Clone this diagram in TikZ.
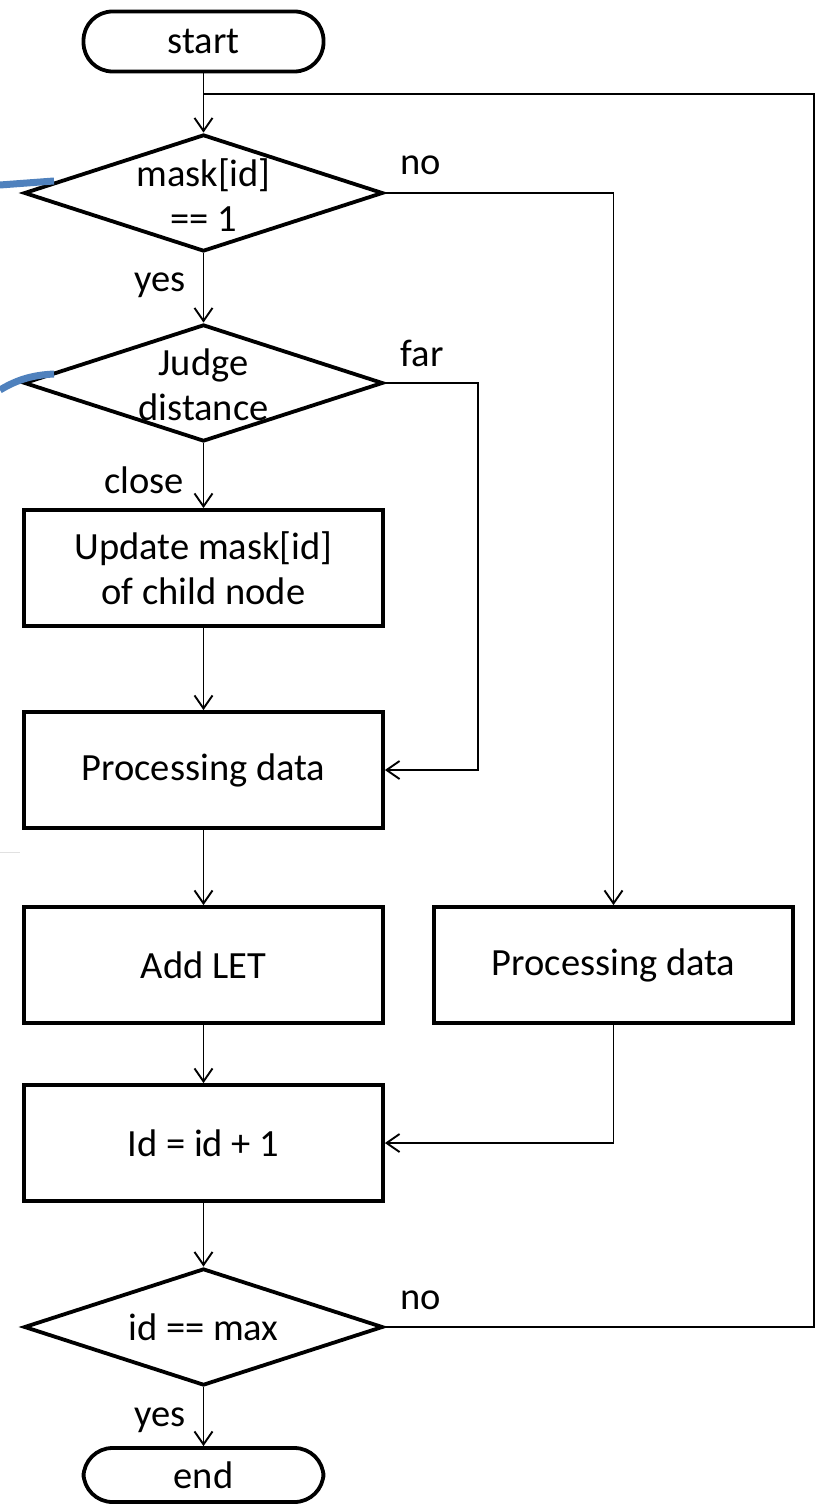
\documentclass[tikz,border=0pt]{standalone}
\usepackage{fontspec}
\setmainfont{Carlito}
\usetikzlibrary{shapes.geometric,arrows.meta}
\begin{document}
\begin{tikzpicture}[x=1pt,y=-1pt,
  txt/.style={font=\fontsize{38.5}{45}\selectfont},
  box/.style={draw,line width=3.8pt,minimum width=359pt,minimum height=116pt,align=center,inner sep=0pt,txt},
  term/.style={draw,line width=3.8pt,rounded corners=29pt,minimum width=240pt,inner sep=0pt,txt},
  dec/.style={draw,diamond,line width=3.8pt,minimum width=359pt,minimum height=117pt,inner sep=0pt},
  dectext/.style={align=center,txt,inner sep=0pt},
  lbl/.style={txt,inner sep=0pt},
  conn/.style={line width=1.9pt},
  arr/.style={conn,-{Straight Barb[length=13pt,width=18pt,line width=1.9pt]}},
  blue/.style={line width=7pt,color={rgb,255:red,79;green,129;blue,189}}
]
\useasboundingbox (0,0) rectangle (820,1506);

% terminals
\node[term,minimum height=60pt] (start) at (203.5,41.5) {start};
\node[term,minimum height=54pt] (end) at (203.5,1475) {end};

% decisions
\node[dec] (d1) at (203.5,193) {};
\node[dectext] (d1t) at (203.5,195) {mask[id]\\== 1};
\node[dec] (d2) at (203.5,383) {};
\node[dectext] (d2t) at (203.5,385) {Judge\\distance};
\node[dec] (d3) at (203.5,1327) {};
\node[dectext] (d3t) at (203.5,1327) {id == max};

% process boxes
\node[box] (upd) at (203.5,568) {Update mask[id]\\of child node};
\node[box] (proc1) at (203.5,770) {Processing data};
\node[box] (let) at (203.5,965) {Add LET};
\node[box] (proc2) at (613.5,965) {Processing data};
\node[box] (inc) at (203.5,1143) {Id = id + 1};

% coordinates
\coordinate (loopTop) at (203.5,94);
\coordinate (loopTR) at (814,94);
\coordinate (loopBR) at (814,1327);
\coordinate (noTurn) at (613.5,193);
\coordinate (farTop) at (478,383);
\coordinate (farBot) at (478,770);
\coordinate (p2Bot) at (613.5,1143);

% connectors
\draw[arr] (start) -- (d1);
\draw[arr] (d1) -- (d2);
\draw[arr] (d2) -- (upd);
\draw[arr] (upd) -- (proc1);
\draw[arr] (proc1) -- (let);
\draw[arr] (let) -- (inc);
\draw[arr] (inc) -- (d3);
\draw[arr] (d3) -- (end);
\draw[arr] (d1.east) -- (noTurn) -- (proc2.north);
\draw[arr] (d2.east) -- (farTop) -- (farBot) -- (proc1.east);
\draw[arr] (proc2.south) -- (p2Bot) -- (inc.east);
\draw[conn] (d3.east) -- (loopBR) -- (loopTR) -- (loopTop);

% labels
\node[lbl] (l1) at (421,165) {no};
\node[lbl] (l2) at (160,285) {yes};
\node[lbl] (l3) at (422,353) {far};
\node[lbl] (l4) at (144,480) {close};
\node[lbl] (l5) at (421,1300) {no};
\node[lbl] (l6) at (160,1420) {yes};

% blue strokes and faint line
\draw[blue] (0,185) -- (54,181);
\draw[blue] (0,390) .. controls (18,379) and (34,375) .. (54,374);
\draw[line width=1pt,color={rgb,255:red,225;green,225;blue,225}] (0,852) -- (20,852);
\end{tikzpicture}
\end{document}
